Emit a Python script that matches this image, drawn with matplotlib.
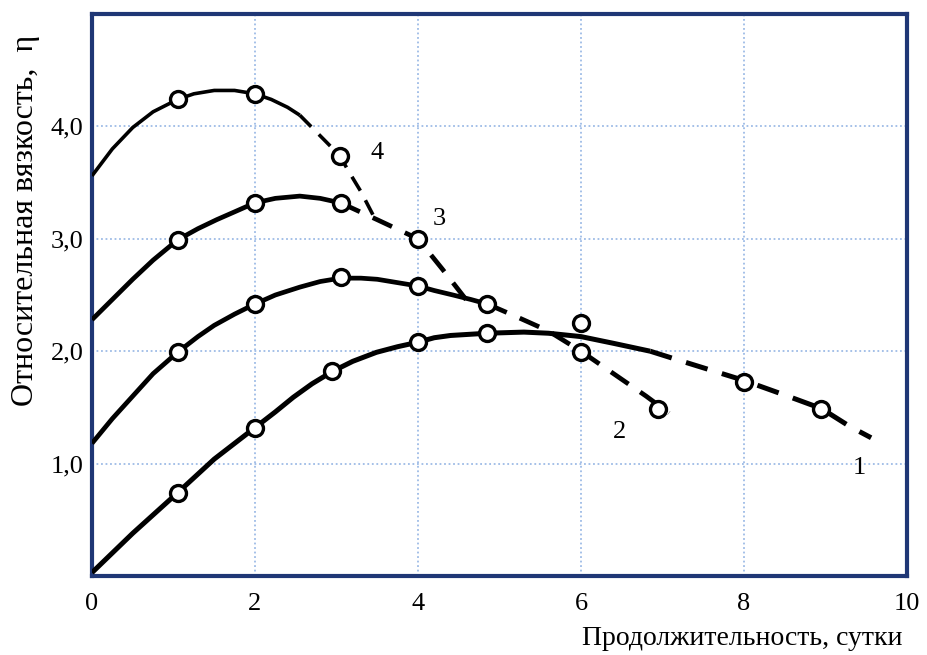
import matplotlib.pyplot as plt

# --- data ---
x_ticks = [0, 2, 4, 6, 8, 10]
y_ticks = [1, 2, 3, 4]
y_tick_labels = ['1,0', '2,0', '3,0', '4,0']

# curve 1
c1_solid_x = [0, 0.5, 1.05, 1.5, 2.0, 2.25, 2.47, 2.7, 2.95, 3.2, 3.49, 3.75, 4.0, 4.2, 4.4,
              4.85, 5.3, 5.6, 6.0, 6.4, 6.85]
c1_solid_y = [0.03, 0.38, 0.74, 1.04, 1.32, 1.46, 1.59, 1.71, 1.82, 1.91, 1.99, 2.04, 2.08, 2.12, 2.14,
              2.16, 2.17, 2.16, 2.13, 2.07, 2.0]
c1_dash_x = [6.85, 7.2, 7.6, 8.0, 8.5, 8.95, 9.3, 9.56]
c1_dash_y = [2.0, 1.92, 1.83, 1.74, 1.61, 1.49, 1.33, 1.23]
c1_pts_x = [1.05, 2.0, 2.95, 4.0, 4.85, 6.0, 8.0, 8.95]
c1_pts_y = [0.74, 1.32, 1.82, 2.08, 2.16, 2.25, 1.73, 1.49]

# curve 2
c2_solid_x = [0, 0.25, 0.5, 0.75, 1.05, 1.3, 1.5, 1.75, 2.0, 2.25, 2.55, 2.8, 3.05, 3.3, 3.5,
              3.75, 4.0, 4.2, 4.43, 4.65, 4.85]
c2_solid_y = [1.18, 1.4, 1.6, 1.8, 1.99, 2.13, 2.23, 2.33, 2.42, 2.5, 2.57, 2.62, 2.65, 2.65, 2.64,
              2.61, 2.58, 2.54, 2.5, 2.46, 2.42]
c2_dash_x = [4.85, 5.2, 5.6, 6.0, 6.4, 6.8, 7.08]
c2_dash_y = [2.42, 2.31, 2.18, 2.0, 1.8, 1.6, 1.45]
c2_pts_x = [1.05, 2.0, 3.05, 4.0, 4.85, 6.0, 6.94]
c2_pts_y = [1.99, 2.42, 2.66, 2.58, 2.42, 1.99, 1.49]

# curve 3
c3_solid_x = [0, 0.25, 0.5, 0.75, 1.05, 1.3, 1.53, 1.75, 2.0, 2.25, 2.55, 2.8, 3.05]
c3_solid_y = [2.28, 2.46, 2.64, 2.81, 2.99, 3.09, 3.17, 3.24, 3.32, 3.36, 3.38, 3.36, 3.32]
c3_dash_x = [3.05, 3.5, 4.0, 4.3, 4.6, 4.85]
c3_dash_y = [3.32, 3.17, 3.0, 2.73, 2.45, 2.42]
c3_pts_x = [1.05, 2.0, 3.05, 4.0]
c3_pts_y = [2.99, 3.32, 3.32, 3.0]

# curve 4
c4_solid_x = [0, 0.25, 0.5, 0.75, 1.05, 1.25, 1.5, 1.75, 2.0, 2.2, 2.4, 2.55]
c4_solid_y = [3.56, 3.8, 3.99, 4.13, 4.24, 4.29, 4.32, 4.32, 4.29, 4.24, 4.17, 4.1]
c4_dash_x = [2.55, 2.7, 2.85, 3.04, 3.15, 3.3, 3.45]
c4_dash_y = [4.1, 3.99, 3.88, 3.74, 3.6, 3.42, 3.21]
c4_pts_x = [1.05, 2.0, 3.04]
c4_pts_y = [4.24, 4.29, 3.74]

curve_names = ['1', '2', '3', '4']
name_x = [9.41, 6.47, 4.26, 3.5]
name_y = [0.96, 1.28, 3.18, 3.76]

plt.rcParams['font.family'] = ['Liberation Serif', 'DejaVu Serif']

fig = plt.figure(figsize=(9.27, 6.55), dpi=100)
ax = fig.add_axes([0.0992, 0.1206, 0.8792, 0.858])

frame_color = '#1f3775'
grid_color = '#9dbbe6'

curves = [
    (c1_solid_x, c1_solid_y, c1_dash_x, c1_dash_y, c1_pts_x, c1_pts_y, 3.6),
    (c2_solid_x, c2_solid_y, c2_dash_x, c2_dash_y, c2_pts_x, c2_pts_y, 3.4),
    (c3_solid_x, c3_solid_y, c3_dash_x, c3_dash_y, c3_pts_x, c3_pts_y, 3.4),
    (c4_solid_x, c4_solid_y, c4_dash_x, c4_dash_y, c4_pts_x, c4_pts_y, 2.6),
]

for sx, sy, dx, dy, px, py, lw in curves:
    ax.plot(sx, sy, color='black', lw=lw, solid_capstyle='butt', solid_joinstyle='round', zorder=3)
    ax.plot(dx, dy, color='black', lw=lw, dashes=(4.5, 3), dash_capstyle='butt', zorder=3)
    ax.plot(px, py, ls='none', marker='o', ms=11.5, mfc='white', mec='black', mew=2.4, zorder=4)

for name, tx, ty in zip(curve_names, name_x, name_y):
    ax.text(tx, ty, name, fontsize=19, ha='center', va='center')

ax.set_xlim(0, 10)
ax.set_ylim(0, 5)
ax.set_xticks(x_ticks)
ax.set_xticklabels([str(v) for v in x_ticks])
ax.set_yticks(y_ticks)
ax.set_yticklabels(y_tick_labels)
ax.tick_params(length=0, labelsize=19)
ax.tick_params(axis='x', pad=12)
ax.tick_params(axis='y', pad=6)

ax.grid(True, color=grid_color, ls=(0, (1, 1.5)), lw=1.3, zorder=1)
for s in ax.spines.values():
    s.set_color(frame_color)
    s.set_linewidth(3)

fig.text(0.974, 0.016, 'Продолжительность, сутки', fontsize=20, ha='right', va='baseline')
fig.text(0.027, 0.663, 'Относительная вязкость,  η', fontsize=23, rotation=90,
         ha='center', va='center')

fig.savefig('out.png', dpi=100)
